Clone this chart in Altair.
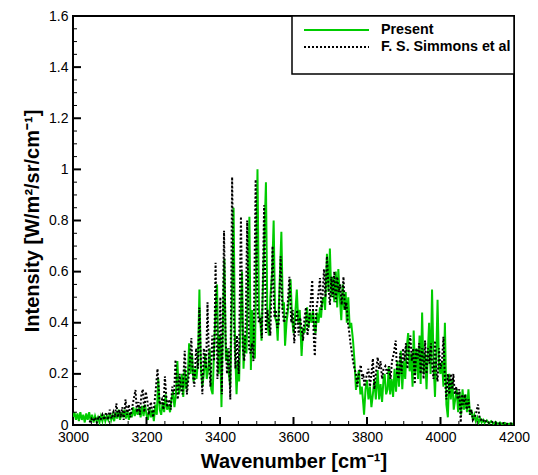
import altair as alt
import pandas as pd

# ---- data ----
present_wn = [
    3000, 3004, 3008, 3012, 3016, 3020, 3024, 3028, 3032, 3036, 3040, 3044, 3048, 3052, 3056, 3060,
    3064, 3068, 3072, 3076, 3080, 3084, 3088, 3092, 3096, 3100, 3104, 3108, 3112, 3116, 3120, 3124,
    3128, 3132, 3136, 3140, 3144, 3148, 3152, 3156, 3160, 3164, 3168, 3172, 3176, 3180, 3184, 3188,
    3192, 3196, 3200,
    3204, 3208, 3212, 3216, 3220, 3224, 3228, 3232, 3236, 3240, 3244, 3248, 3252, 3256, 3260, 3264,
    3268, 3272, 3276, 3280, 3284, 3288, 3292, 3296, 3300, 3304, 3308, 3312, 3316, 3320, 3324, 3328,
    3332, 3336, 3340, 3344, 3348, 3352, 3356, 3360, 3364, 3368, 3372, 3376, 3380, 3384, 3388, 3392,
    3396, 3400,
    3404, 3408, 3412, 3416, 3420, 3424, 3428, 3432, 3437, 3441, 3445, 3449, 3452, 3456, 3460, 3464,
    3468, 3472, 3476, 3480, 3484, 3488, 3492, 3495, 3499, 3502, 3506, 3510, 3513, 3517, 3521, 3525,
    3529, 3533, 3537, 3542, 3546, 3550, 3554, 3557, 3561, 3567, 3571, 3574, 3577, 3581, 3585, 3589,
    3592, 3596, 3600,
    3604, 3609, 3613, 3617, 3622, 3626, 3630, 3633, 3637, 3641, 3645, 3649, 3653, 3657, 3660, 3664,
    3668, 3672, 3675, 3678, 3682, 3686, 3691, 3695, 3699, 3703, 3707, 3711, 3715, 3719, 3722, 3726,
    3730, 3734, 3738, 3742, 3745, 3749, 3753, 3757, 3762, 3766, 3770, 3774, 3778, 3782, 3786, 3790,
    3792, 3796, 3800,
    3804, 3808, 3812, 3816, 3820, 3824, 3829, 3833, 3837, 3841, 3845, 3848, 3852, 3856, 3859, 3863,
    3867, 3871, 3875, 3879, 3883, 3887, 3892, 3896, 3900, 3904, 3908, 3912, 3916, 3920, 3924, 3927,
    3931, 3935, 3939, 3943, 3946, 3950, 3954, 3958, 3962, 3966, 3969, 3973, 3977, 3981, 3985, 3989,
    3992, 3996, 4000,
    4004, 4008, 4012, 4016, 4020, 4024, 4028, 4032, 4036, 4040, 4044, 4048, 4052, 4056, 4060, 4064,
    4068, 4072, 4076, 4080, 4084, 4088, 4092, 4096, 4100, 4104, 4108, 4112, 4116, 4120, 4126, 4132,
    4138, 4144, 4150, 4156, 4162, 4168, 4175, 4182, 4190, 4200,
]
present_int = [
    0.03, 0.05, 0.02, 0.045, 0.015, 0.05, 0.02, 0.04, 0.01, 0.045, 0.02, 0.05, 0.015, 0.04, 0.01, 0.035,
    0.015, 0.03, 0.01, 0.035, 0.015, 0.04, 0.015, 0.035, 0.02, 0.045, 0.02, 0.04, 0.015, 0.05, 0.025, 0.06,
    0.02, 0.05, 0.03, 0.06, 0.025, 0.055, 0.02, 0.05, 0.03, 0.07, 0.035, 0.065, 0.04, 0.07, 0.03, 0.075,
    0.035, 0.08, 0.04,
    0.02, 0.07, 0.03, 0.06, 0.015, 0.08, 0.04, 0.18, 0.06, 0.04, 0.09, 0.05, 0.12, 0.06, 0.08, 0.05,
    0.10, 0.13, 0.07, 0.12, 0.25, 0.12, 0.15, 0.20, 0.11, 0.22, 0.14, 0.18, 0.32, 0.20, 0.28, 0.17,
    0.22, 0.18, 0.25, 0.53, 0.22, 0.15, 0.20, 0.28, 0.18, 0.22, 0.30, 0.14, 0.12, 0.30, 0.45, 0.55,
    0.20, 0.35,
    0.07, 0.40, 0.65, 0.25, 0.30, 0.20, 0.15, 0.45, 0.85, 0.30, 0.12, 0.25, 0.17, 0.40, 0.60, 0.22,
    0.35, 0.28, 0.55, 0.815, 0.215, 0.45, 0.30, 0.26, 0.70, 1.0, 0.45, 0.40, 0.33, 0.55, 0.75, 0.95,
    0.40, 0.35, 0.50, 0.60, 0.80, 0.42, 0.40, 0.33, 0.50, 0.756, 0.45, 0.48, 0.31, 0.40, 0.45, 0.52,
    0.57, 0.42, 0.36,
    0.42, 0.53, 0.40, 0.45, 0.27, 0.38, 0.36, 0.40, 0.46, 0.38, 0.44, 0.40, 0.45, 0.38, 0.36, 0.44,
    0.40, 0.46, 0.42, 0.48, 0.50, 0.45, 0.67, 0.52, 0.69, 0.50, 0.58, 0.48, 0.60, 0.46, 0.61, 0.50,
    0.41, 0.55, 0.45, 0.52, 0.40, 0.50, 0.38, 0.40, 0.33, 0.25, 0.137, 0.18, 0.215, 0.12, 0.15, 0.08,
    0.04, 0.14, 0.176,
    0.10, 0.15, 0.07, 0.12, 0.18, 0.10, 0.215, 0.10, 0.16, 0.09, 0.18, 0.20, 0.12, 0.14, 0.23, 0.12,
    0.18, 0.11, 0.22, 0.13, 0.25, 0.15, 0.29, 0.14, 0.25, 0.18, 0.30, 0.36, 0.21, 0.28, 0.15, 0.37,
    0.20, 0.30, 0.18, 0.35, 0.16, 0.44, 0.20, 0.28, 0.14, 0.30, 0.40, 0.20, 0.53, 0.25, 0.11, 0.30,
    0.49, 0.22, 0.20,
    0.25, 0.15, 0.40, 0.08, 0.03, 0.20, 0.10, 0.18, 0.06, 0.10, 0.14, 0.05, 0.13, 0.04, 0.14, 0.06,
    0.12, 0.05, 0.14, 0.04, 0.06, 0.02, 0.04, 0.015, 0.03, 0.01, 0.025, 0.01, 0.02, 0.008, 0.018, 0.006,
    0.015, 0.005, 0.012, 0.004, 0.01, 0.003, 0.008, 0.003, 0.006, 0.004,
]

simmons_wn = [
    3045, 3050, 3055, 3060, 3065, 3070, 3075, 3080, 3085, 3090, 3095, 3100, 3105, 3110, 3114, 3118,
    3122, 3126, 3130, 3134, 3138, 3143, 3147, 3152, 3156, 3160, 3165, 3170, 3174, 3178, 3182, 3186,
    3190, 3194, 3198, 3202, 3206, 3212, 3218, 3224, 3230, 3236, 3242, 3246, 3250, 3256, 3262, 3266,
    3270, 3275, 3279, 3285, 3290, 3294, 3298, 3304, 3310, 3314, 3318, 3322, 3326, 3330, 3335, 3340,
    3344, 3348, 3352, 3356, 3362, 3366, 3370, 3374, 3379, 3384, 3388, 3393, 3397, 3401, 3405, 3411,
    3415, 3419, 3424, 3428, 3433, 3438, 3442, 3446, 3451, 3457, 3462, 3466, 3470, 3474, 3479, 3483,
    3487, 3491, 3497, 3502, 3506, 3510, 3514, 3520, 3525, 3529, 3533, 3537, 3543, 3548, 3552, 3556,
    3560, 3565, 3570, 3574, 3578, 3583, 3589, 3594, 3598, 3602, 3606, 3610, 3614, 3618, 3622, 3626,
    3630, 3634, 3638, 3642, 3646, 3651, 3655, 3658, 3662, 3667, 3672, 3676, 3679, 3683, 3687, 3691,
    3695, 3699, 3703, 3707, 3711, 3715, 3719, 3723, 3727, 3731, 3736, 3740, 3744, 3748, 3752, 3755,
    3759, 3762, 3766, 3770, 3774, 3778, 3783, 3787, 3790, 3793, 3797, 3800, 3804, 3808, 3812, 3816,
    3820, 3824, 3829, 3833, 3837, 3841, 3845, 3850, 3855, 3860, 3864, 3868, 3873, 3878, 3882, 3886,
    3890, 3894, 3898, 3902, 3906, 3910, 3914, 3918, 3922, 3926, 3930, 3934, 3938, 3942, 3946, 3950,
    3954, 3958, 3962, 3966, 3970, 3974, 3978, 3981, 3985, 3989, 3992, 3996, 4000, 4004, 4008, 4012,
    4016, 4020, 4024, 4028, 4032, 4035, 4039, 4043, 4047, 4051, 4055, 4059, 4063, 4067, 4071, 4076,
    4080, 4084, 4088, 4092, 4096, 4102, 4106, 4110, 4115, 4120, 4126, 4132, 4140, 4148, 4156, 4164,
    4172, 4180, 4190, 4200,
]
simmons_int = [
    0.01, 0.025, 0.015, 0.03, 0.01, 0.035, 0.02, 0.04, 0.02, 0.05, 0.02, 0.06, 0.025, 0.05, 0.03, 0.085,
    0.03, 0.06, 0.03, 0.07, 0.02, 0.10, 0.04, 0.08, 0.03, 0.06, 0.10, 0.137, 0.05, 0.09, 0.04, 0.12,
    0.14, 0.05, 0.13, 0.10, 0.04, 0.09, 0.03, 0.12, 0.22, 0.08, 0.10, 0.06, 0.19, 0.07, 0.10, 0.06,
    0.15, 0.12, 0.255, 0.10, 0.20, 0.14, 0.12, 0.29, 0.12, 0.18, 0.25, 0.34, 0.20, 0.15, 0.30, 0.22,
    0.46, 0.25, 0.12, 0.30, 0.22, 0.48, 0.25, 0.15, 0.35, 0.25, 0.635, 0.18, 0.30, 0.50, 0.12, 0.76,
    0.35, 0.20, 0.30, 0.10, 0.97, 0.40, 0.22, 0.35, 0.20, 0.815, 0.30, 0.25, 0.40, 0.80, 0.30, 0.28,
    0.32, 0.25, 0.96, 0.45, 0.40, 0.42, 0.34, 0.86, 0.36, 0.45, 0.40, 0.35, 0.70, 0.42, 0.45, 0.38,
    0.40, 0.66, 0.45, 0.40, 0.42, 0.45, 0.58, 0.40, 0.45, 0.32, 0.40, 0.45, 0.35, 0.42, 0.38, 0.33,
    0.42, 0.46, 0.35, 0.40, 0.47, 0.567, 0.35, 0.27, 0.45, 0.50, 0.575, 0.45, 0.50, 0.61, 0.50, 0.66,
    0.55, 0.47, 0.58, 0.50, 0.60, 0.48, 0.58, 0.52, 0.55, 0.47, 0.58, 0.45, 0.48, 0.40, 0.36, 0.32,
    0.28, 0.25, 0.22, 0.20, 0.15, 0.20, 0.235, 0.18, 0.20, 0.15, 0.18, 0.20, 0.22, 0.15, 0.20, 0.26,
    0.14, 0.20, 0.265, 0.22, 0.25, 0.18, 0.22, 0.23, 0.20, 0.23, 0.18, 0.25, 0.28, 0.33, 0.20, 0.18,
    0.28, 0.20, 0.30, 0.25, 0.32, 0.22, 0.30, 0.35, 0.25, 0.30, 0.16, 0.30, 0.26, 0.32, 0.20, 0.30,
    0.18, 0.33, 0.20, 0.30, 0.24, 0.32, 0.22, 0.18, 0.33, 0.20, 0.17, 0.30, 0.22, 0.25, 0.345, 0.18,
    0.10, 0.20, 0.12, 0.20, 0.14, 0.20, 0.12, 0.15, 0.10, 0.14, 0.01, 0.12, 0.08, 0.12, 0.06, 0.10,
    0.04, 0.06, 0.02, 0.03, 0.04, 0.08, 0.03, 0.02, 0.025, 0.01, 0.018, 0.008, 0.012, 0.006, 0.01, 0.004,
    0.008, 0.004, 0.006, 0.003,
]

series_names = ["Present", "F. S. Simmons et al"]
series_colors = ["#00CC00", "#000000"]
series_dashes = [[1, 0], [2, 2]]

x_major = [3000, 3200, 3400, 3600, 3800, 4000, 4200]
x_minor = [v for v in range(3000, 4201, 50) if v % 200 != 0]
y_major = [0, 0.2, 0.4, 0.6, 0.8, 1.0, 1.2, 1.4, 1.6]
y_minor = [round(i * 0.05, 2) for i in range(33) if i % 4 != 0]

W, H = 441, 409
FONT = "Liberation Sans"

df = pd.concat([
    pd.DataFrame({"wn": present_wn, "intensity": present_int, "series": series_names[0], "order": 0}),
    pd.DataFrame({"wn": simmons_wn, "intensity": simmons_int, "series": series_names[1], "order": 1}),
])

xscale = alt.Scale(domain=[3000, 4200], nice=False, zero=False)
yscale = alt.Scale(domain=[0, 1.6], nice=False)

lines = alt.Chart(df).mark_line(strokeWidth=2, clip=True).encode(
    x=alt.X("wn:Q", scale=xscale,
            axis=alt.Axis(values=x_major, format="d", title="Wavenumber [cm⁻¹]", ticks=False,
                          domain=False, grid=False, labelPadding=5, titlePadding=7, labelFlush=False)),
    y=alt.Y("intensity:Q", scale=yscale,
            axis=alt.Axis(values=y_major, format="~g", title="Intensity [W/m²/sr/cm⁻¹]", ticks=False,
                          domain=False, grid=False, labelPadding=5, titlePadding=6, labelFlush=False)),
    color=alt.Color("series:N", scale=alt.Scale(domain=series_names, range=series_colors), legend=None),
    strokeDash=alt.StrokeDash("series:N", scale=alt.Scale(domain=series_names, range=series_dashes), legend=None),
    order=alt.Order("order:Q"),
    detail="series:N",
)

# inward tick marks (major and minor)
xt_major = alt.Chart(pd.DataFrame({"v": x_major})).mark_rule(color="black", strokeWidth=2).encode(
    x=alt.X("v:Q", scale=xscale), y=alt.value(H), y2=alt.value(H - 8))
xt_minor = alt.Chart(pd.DataFrame({"v": x_minor})).mark_rule(color="black", strokeWidth=1).encode(
    x=alt.X("v:Q", scale=xscale), y=alt.value(H), y2=alt.value(H - 4))
yt_major = alt.Chart(pd.DataFrame({"v": y_major})).mark_rule(color="black", strokeWidth=2).encode(
    y=alt.Y("v:Q", scale=yscale), x=alt.value(0), x2=alt.value(8))
yt_minor = alt.Chart(pd.DataFrame({"v": y_minor})).mark_rule(color="black", strokeWidth=1).encode(
    y=alt.Y("v:Q", scale=yscale), x=alt.value(0), x2=alt.value(4))

# legend box drawn by hand (Tecplot style)
LX0, LX1, LY0, LY1 = 219, W, 0, 58
legend_box = alt.Chart(pd.DataFrame({"k": [0]})).mark_rect(
    fill="white", stroke="black", strokeWidth=1.5).encode(
    x=alt.value(LX0), x2=alt.value(LX1), y=alt.value(LY0), y2=alt.value(LY1))

legend_layers = []
for i, name in enumerate(series_names):
    row_y = 14 + 17 * i
    ldf = pd.DataFrame({"series": [name]})
    legend_layers.append(
        alt.Chart(ldf).mark_rule(color=series_colors[i], strokeWidth=2, strokeDash=series_dashes[i]).encode(
            x=alt.value(LX0 + 12), x2=alt.value(LX0 + 77), y=alt.value(row_y)))
    legend_layers.append(
        alt.Chart(ldf).mark_text(align="left", baseline="middle", font=FONT, fontSize=14.3,
                                 fontWeight="bold", color="black").encode(
            text="series:N", x=alt.value(LX0 + 89), y=alt.value(row_y)))

chart = alt.layer(lines, xt_major, xt_minor, yt_major, yt_minor, legend_box, *legend_layers).properties(
    width=W, height=H,
    autosize=alt.AutoSizeParams(type="none"),
    padding={"left": 65, "top": 8, "right": 16, "bottom": 50},
).configure_view(
    stroke="black", strokeWidth=2
).configure_axis(
    labelFont=FONT, labelFontSize=14, labelColor="black",
    titleFont=FONT, titleFontSize=20, titleFontWeight="bold", titleColor="black",
)

chart.save("out.html", embed_options={"renderer": "svg", "actions": False})
